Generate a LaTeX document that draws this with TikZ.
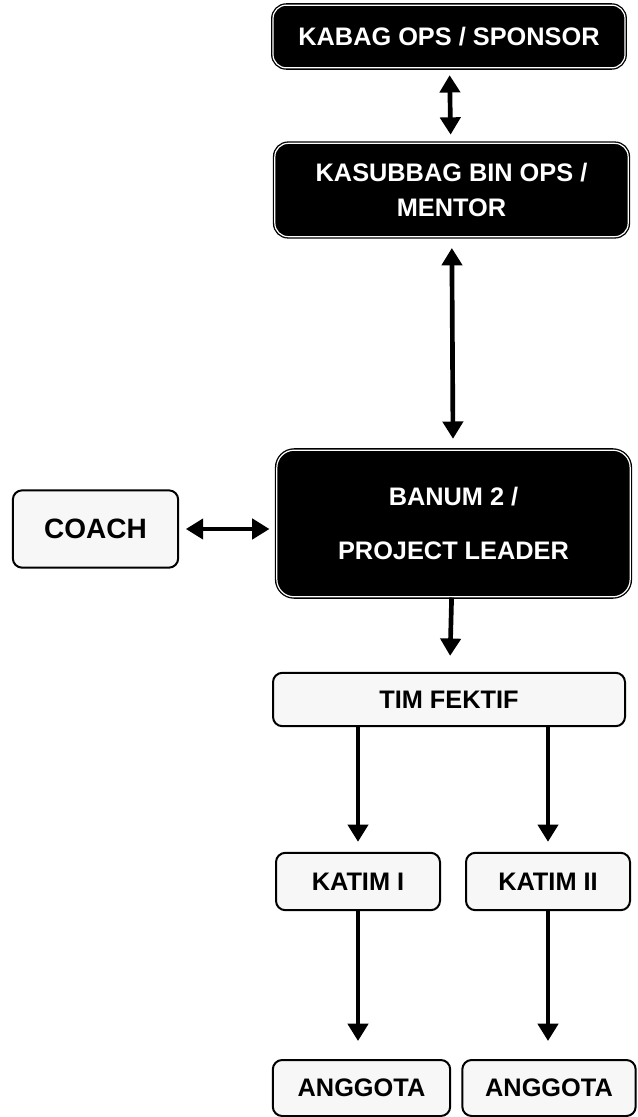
\documentclass[tikz,border=0pt]{standalone}
\usepackage{fontspec}
\setmainfont{Liberation Sans}
\usetikzlibrary{arrows.meta}

\tikzset{every picture/.style={line width=0.75pt}}
\tikzset{
  darkbox/.style={draw=black, fill=black, double=white, double distance=0.9pt, line width=1pt,
    rounded corners=10pt, text=white, align=center, inner sep=0pt,
    font=\bfseries\fontsize{19}{26}\selectfont},
  lightbox/.style={draw=black, fill=gray!6, line width=1.5pt, rounded corners=7pt,
    align=center, inner sep=0pt, font=\bfseries\fontsize{19}{22}\selectfont},
  link/.style={line width=3.5pt, -{Triangle[width=15pt,length=13pt]}},
  twolink/.style={line width=3.5pt, {Triangle[width=15pt,length=13pt]}-{Triangle[width=15pt,length=13pt]}}
}

\begin{document}
\begin{tikzpicture}[x=0.75pt,y=0.75pt,yscale=-1,xscale=1]
\useasboundingbox (0,0) rectangle (637,1117);

% top of the chain
\node [darkbox, minimum width=264pt, minimum height=47pt] (kabag) at (449,36.5) {KABAG OPS / SPONSOR};
\node [darkbox, minimum width=265pt, minimum height=70pt] (kasubbag) at (451.5,190) {KASUBBAG BIN OPS /\\MENTOR};
\node [darkbox, minimum width=265pt, minimum height=110pt, rounded corners=13pt] (banum) at (453.5,523.5) {BANUM 2 /\\[15pt]PROJECT LEADER};
\node [lightbox, minimum width=124pt, minimum height=58pt, font=\bfseries\fontsize{21}{24}\selectfont] (coach) at (95.5,529) {COACH};

% team
\node [lightbox, minimum width=264pt, minimum height=40pt] (tim) at (449,699.5) {TIM FEKTIF};
\node [lightbox, minimum width=123pt, minimum height=43pt] (katimA) at (358,881.5) {KATIM I};
\node [lightbox, minimum width=123pt, minimum height=43pt] (katimB) at (548,881.5) {KATIM II};
\node [lightbox, minimum width=133pt, minimum height=42pt] (anggotaA) at (361.5,1088) {ANGGOTA};
\node [lightbox, minimum width=130pt, minimum height=42pt] (anggotaB) at (549,1088) {ANGGOTA};

\draw [twolink, shorten <=5pt, shorten >=6pt] (kabag) -- (kasubbag);
\draw [twolink, shorten <=8pt, shorten >=8pt] (kasubbag) -- (banum);
\draw [twolink, shorten <=5pt, shorten >=5pt] (coach) -- (coach -| banum.west);
\draw [link, shorten >=12pt] (banum) -- (tim);
\draw [link, shorten >=7.5pt] (katimA.north |- tim.south) -- (katimA);
\draw [link, shorten >=7.5pt] (katimB.north |- tim.south) -- (katimB);
\draw [link, shorten >=13.5pt] (katimA) -- (anggotaA.north -| katimA);
\draw [link, shorten >=13.5pt] (katimB) -- (anggotaB.north -| katimB);

\end{tikzpicture}
\end{document}
